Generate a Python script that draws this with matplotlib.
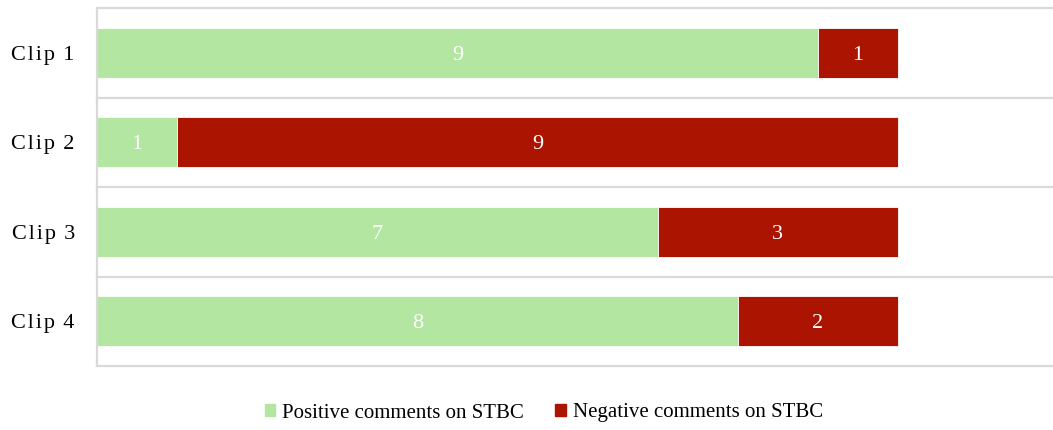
import matplotlib.pyplot as plt
from matplotlib.patches import Patch

clips     = ["Clip 1", "Clip 2", "Clip 3", "Clip 4"]
positive  = [9, 1, 7, 8]
negative  = [1, 9, 3, 2]

green     = "#b3e6a0"
red       = "#ab1400"
grid_col  = "#d9d9d9"

plt.rcParams['font.family'] = ['Liberation Serif', 'DejaVu Serif']

def spaced(s):
    # loose letter spacing for the category labels
    return "\u200a".join(s).replace(" ", "\u2009")

fig = plt.figure(figsize=(10.53, 4.30), dpi=100)
ax = fig.add_axes([97 / 1053, 64 / 430, 956 / 1053, 358 / 430])

y = list(range(len(clips)))
bar_h = 0.56
b1 = ax.barh(y, positive, height=bar_h, color=green, edgecolor="white", linewidth=0.6)
b2 = ax.barh(y, negative, left=positive, height=bar_h, color=red, edgecolor="white", linewidth=0.6)

for bars, vals in ((b1, positive), (b2, negative)):
    for rect, v in zip(bars, vals):
        ax.text(rect.get_x() + rect.get_width() / 2, rect.get_y() + rect.get_height() / 2,
                str(v), ha="center", va="center_baseline", color="white", fontsize=16)

# horizontal separators between categories
for yy in [-0.5, 0.5, 1.5, 2.5, 3.5]:
    ax.axhline(yy, color=grid_col, linewidth=1.6, zorder=0, clip_on=False)

ax.set_xlim(0, 956 / 80.1)
ax.set_ylim(3.5, -0.5)
ax.set_xticks([])
ax.set_yticks(y)
ax.set_yticklabels([spaced(c) for c in clips], fontsize=16)
ax.tick_params(axis="y", length=0, pad=16)

for s in ["top", "right", "bottom"]:
    ax.spines[s].set_visible(False)
ax.spines["left"].set_color(grid_col)
ax.spines["left"].set_linewidth(1.6)

handles = [Patch(color=green, label="Positive comments on STBC"),
           Patch(color=red, label="Negative comments on STBC")]
fig.legend(handles=handles, loc="center", bbox_to_anchor=(544 / 1053, 1 - 413 / 430),
           ncol=2, frameon=False, fontsize=15, handlelength=0.5, handleheight=0.5,
           handletextpad=0.35, columnspacing=1.5)

fig.savefig("out.png", dpi=100)
